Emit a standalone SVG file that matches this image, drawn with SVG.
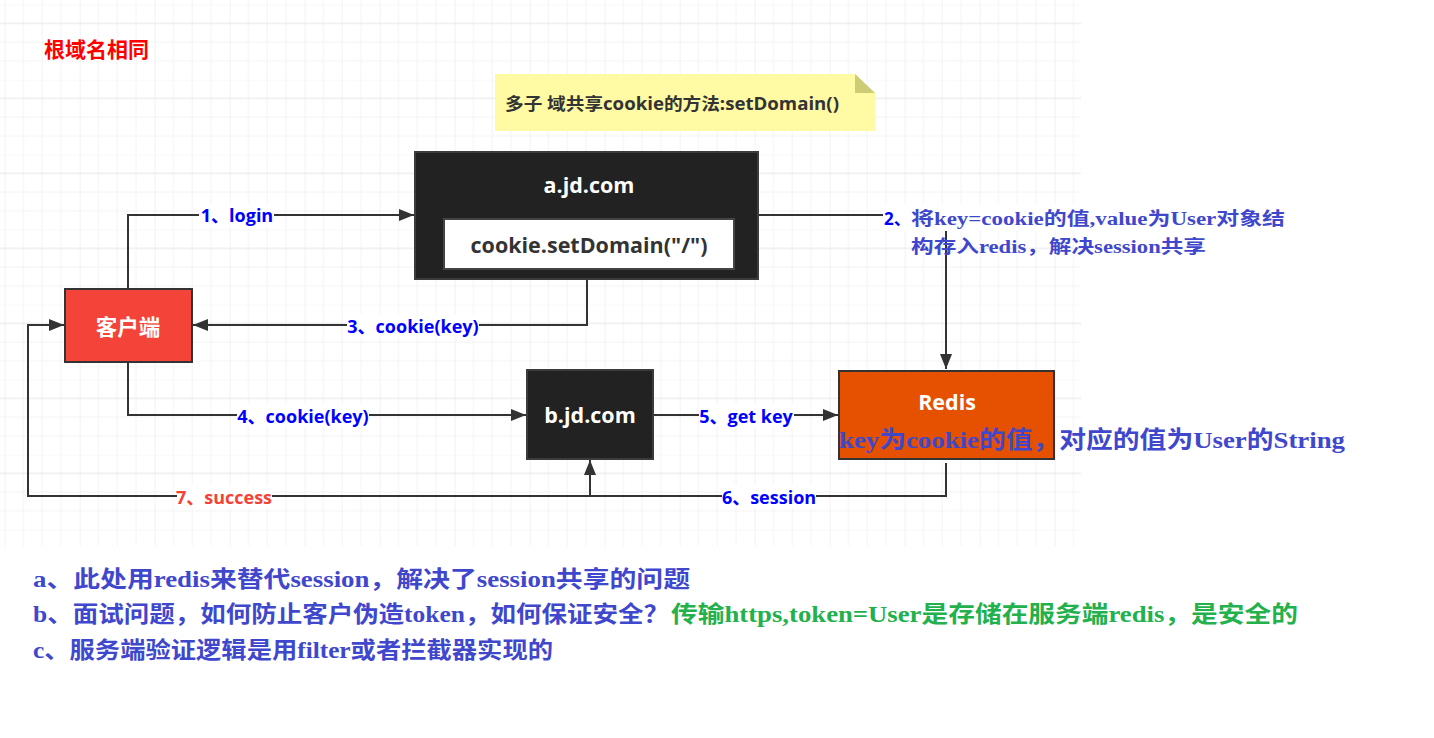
<svg xmlns="http://www.w3.org/2000/svg" width="1434" height="738" viewBox="0 0 1434 738">
<defs>
<pattern id="grid" x="4.7" y="4.6" width="75" height="75" patternUnits="userSpaceOnUse">
<path d="M18.75,0V75M37.5,0V75M56.25,0V75M0,0H75M0,37.5H75M0,56.25H75" stroke="#f3f3f3" stroke-width="1" fill="none"/>
<path d="M0,0V75M0,18.75H75" stroke="#e6e6e6" stroke-width="1" fill="none"/>
</pattern>
<marker id="arr" viewBox="0 0 15 12" refX="15" refY="6" markerWidth="15" markerHeight="12" markerUnits="userSpaceOnUse" orient="auto">
<path d="M0,0L15,6L0,12z" fill="#333"/>
</marker>
<style>
.conn{fill:none;stroke:#333;stroke-width:2}
.lbl{font-family:"Open Sans","Noto Sans CJK SC",sans-serif;font-weight:700;font-size:18px;text-anchor:middle;dominant-baseline:central}
.lblbg{fill:#fff}
.blue{fill:#0000ff}
.red{fill:#f44336}
.node{stroke:#333;stroke-width:2}
.dark{fill:#222;stroke:#3c3c3c;stroke-width:2}
.ntxt{font-family:"Open Sans","Noto Sans CJK SC",sans-serif;font-weight:700;font-size:21.5px;text-anchor:middle;dominant-baseline:central}
.serif{font-family:"Liberation Serif","Noto Sans CJK SC",serif;font-weight:700}
.pb{fill:#3f48cc}
.gr{fill:#22b14c}
</style>
</defs>
<rect x="0" y="0" width="1081" height="546" fill="url(#grid)"/>

<text x="44" y="57" font-family="Noto Sans CJK SC,sans-serif" font-weight="700" font-size="21" fill="#ff0000">根域名相同</text>

<g id="note">
<path d="M495,74H855L875,93V131H495Z" fill="#fffaa3"/>
<path d="M855,74L875,93H855Z" fill="#cccc77"/>
<text x="505" y="110" font-family="Open Sans,Noto Sans CJK SC,sans-serif" font-weight="700" font-size="17" fill="#333" textLength="334" lengthAdjust="spacingAndGlyphs">多子 域共享cookie的方法:setDomain()</text>
</g>

<g id="connectors">
<path class="conn" d="M128,289V215H414" marker-end="url(#arr)"/>
<path class="conn" d="M758,215H946V369" marker-end="url(#arr)"/>
<path class="conn" d="M587,279V325H193" marker-end="url(#arr)"/>
<path class="conn" d="M128,362V415H526" marker-end="url(#arr)"/>
<path class="conn" d="M654,415H838" marker-end="url(#arr)"/>
<path class="conn" d="M946,463V496H590V460" marker-end="url(#arr)"/>
<path class="conn" d="M590,460V496H28V325H64" marker-end="url(#arr)"/>
<rect class="lblbg" x="199" y="204" width="75" height="23"/>
<text class="lbl blue" x="237" y="215">1、login</text>
<rect class="lblbg" x="347" y="314" width="132" height="23"/>
<text class="lbl blue" x="413" y="326">3、cookie(key)</text>
<rect class="lblbg" x="237" y="404" width="132" height="23"/>
<text class="lbl blue" x="303" y="416">4、cookie(key)</text>
<rect class="lblbg" x="699" y="404" width="95" height="23"/>
<text class="lbl blue" x="746" y="416">5、get key</text>
<rect class="lblbg" x="722" y="485" width="94" height="23"/>
<text class="lbl blue" x="769" y="497">6、session</text>
<rect class="lblbg" x="177" y="485" width="95" height="23"/>
<text class="lbl red" x="224" y="497">7、success</text>
<rect class="lblbg" x="883" y="204" width="402" height="27"/>
<text x="884" y="225" font-family="Open Sans,Noto Sans CJK SC,sans-serif" font-weight="700" font-size="17" fill="#0000ff">2、</text>
<text class="serif pb" x="911" y="225" font-size="18" textLength="374" lengthAdjust="spacingAndGlyphs">将key=cookie的值,value为User对象结</text>
<text class="serif pb" x="911" y="253" font-size="18" textLength="295" lengthAdjust="spacingAndGlyphs">构存入redis，解决session共享</text>
</g>

<g id="a-jd-com">
<rect class="dark" x="415" y="152" width="343" height="127"/>
<text class="ntxt" x="589" y="184" fill="#fff">a.jd.com</text>
<rect x="444" y="219" width="290" height="50" fill="#fff" stroke="#444" stroke-width="2"/>
<text class="ntxt" x="589" y="244" fill="#333">cookie.setDomain("/")</text>
</g>

<g id="client">
<rect class="node" x="65" y="289" width="127" height="73" fill="#f4443a"/>
<text class="ntxt" x="128" y="326" fill="#fff">客户端</text>
</g>

<g id="b-jd-com">
<rect class="dark" x="527" y="370" width="126" height="89"/>
<text class="ntxt" x="590" y="414" fill="#fff">b.jd.com</text>
</g>

<g id="redis">
<rect class="node" x="839" y="371" width="215" height="88" fill="#e55100"/>
<text class="ntxt" x="947" y="401" fill="#fff">Redis</text>
<text class="serif pb" x="839" y="448" font-size="24" textLength="506" lengthAdjust="spacingAndGlyphs">key为cookie的值，对应的值为User的String</text>
</g>

<g id="notes-bottom">
<text class="serif pb" x="33" y="587" font-size="23" textLength="657" lengthAdjust="spacingAndGlyphs">a、此处用redis来替代session，解决了session共享的问题</text>
<text class="serif pb" x="33" y="622" font-size="23" textLength="636" lengthAdjust="spacingAndGlyphs">b、面试问题，如何防止客户伪造token，如何保证安全？</text>
<text class="serif gr" x="671" y="622" font-size="23" textLength="627" lengthAdjust="spacingAndGlyphs">传输https,token=User是存储在服务端redis，是安全的</text>
<text class="serif pb" x="33" y="658" font-size="23" textLength="520" lengthAdjust="spacingAndGlyphs">c、服务端验证逻辑是用filter或者拦截器实现的</text>
</g>
</svg>
